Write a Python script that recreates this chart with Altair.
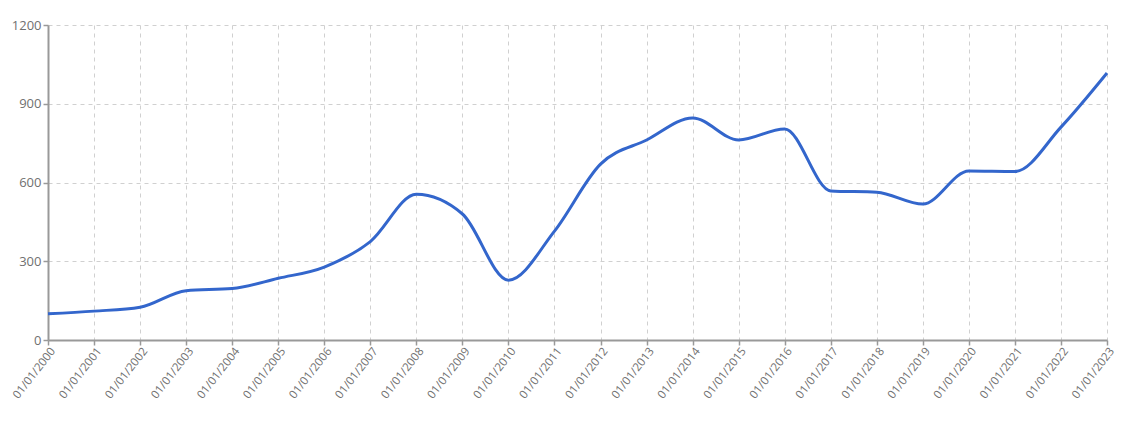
import altair as alt
import pandas as pd

years = list(range(2000, 2024))
values = [100, 110, 125, 188, 196, 235, 278, 375, 555, 480, 228, 415,
          670, 762, 846, 762, 804, 568, 563, 518, 644, 642, 811, 1017]

df = pd.DataFrame({
    "date": [f"{y}-01-01" for y in years],
    "value": values,
})

tick_vals = [alt.DateTime(year=y, month=1, date=1, utc=True) for y in years]

chart = alt.Chart(df).mark_line(
    color="#3366cc", strokeWidth=3, interpolate="monotone"
).encode(
    x=alt.X("date:T",
            scale=alt.Scale(type="utc", domain=[alt.DateTime(year=2000, month=1, date=1, utc=True),
                                                alt.DateTime(year=2023, month=1, date=1, utc=True)],
                            nice=False),
            axis=alt.Axis(title=None, values=tick_vals,
                          labelExpr="utcFormat(datum.value, '%d/%m/%Y')",
                          labelAngle=-52, labelAlign="right", labelBaseline="middle",
                          labelFontSize=11.5, labelPadding=4, labelOffset=5, labelOverlap=False,
                          labelFlush=False, labelBound=False)),
    y=alt.Y("value:Q",
            scale=alt.Scale(domain=[0, 1200], nice=False),
            axis=alt.Axis(title=None, values=[0, 300, 600, 900, 1200], format="d",
                          labelFontSize=13, labelPadding=2, labelFlush=False)),
).properties(
    width=1059, height=315,
    autosize=alt.AutoSizeParams(type="none"),
    padding={"left": 40, "top": 17, "right": 11, "bottom": 80},
).configure_axis(
    labelFont="Open Sans", labelColor="#707070",
    domainColor="#999999", domainWidth=2, tickColor="#999999", tickWidth=1.5, tickSize=5,
    gridColor="#d0d0d0", gridDash=[4, 4], gridWidth=1,
).configure_view(
    stroke=None
)

chart.save("out.html", embed_options={"renderer": "svg", "actions": False})
